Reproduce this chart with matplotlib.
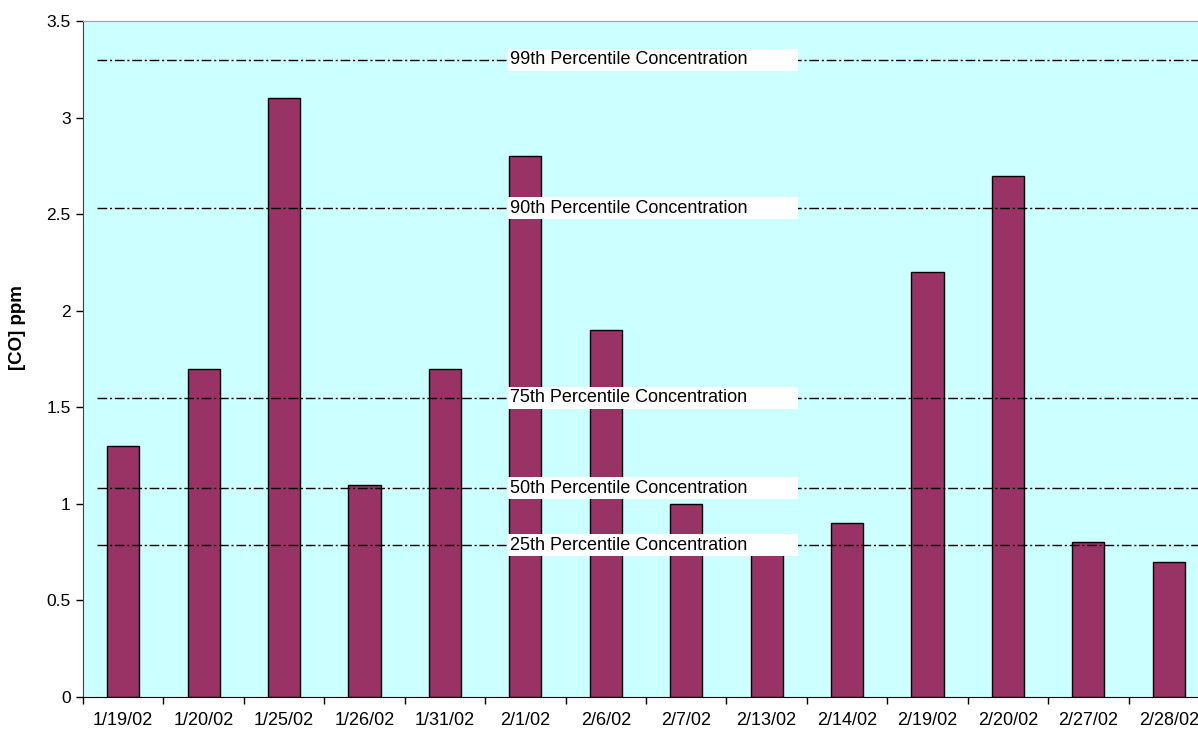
import matplotlib.pyplot as plt
import matplotlib.transforms as mtransforms
from matplotlib.patches import Rectangle
import numpy as np

plt.rcParams['font.family'] = ['Liberation Sans', 'DejaVu Sans']

# Sample dates and measured CO
dates = ["1/19/02", "1/20/02", "1/25/02", "1/26/02", "1/31/02", "2/1/02", "2/6/02",
         "2/7/02", "2/13/02", "2/14/02", "2/19/02", "2/20/02", "2/27/02", "2/28/02"]
co_ppm = [1.3, 1.7, 3.1, 1.1, 1.7, 2.8, 1.9, 1.0, 0.8, 0.9, 2.2, 2.7, 0.8, 0.7]

# Percentile reference levels
pct_names = ["99th", "90th", "75th", "50th", "25th"]
pct_values = [3.30, 2.53, 1.55, 1.08, 0.785]

BAR_COLOR = "#993366"
BG_COLOR = "#ccffff"

fig = plt.figure(figsize=(11.98, 7.35), dpi=100)
ax = fig.add_axes([83 / 1198, 1 - 697 / 735, 1126 / 1198, 676 / 735])
ax.set_facecolor(BG_COLOR)

x = np.arange(len(dates))
ax.bar(x, co_ppm, width=0.4, color=BAR_COLOR, edgecolor="black", linewidth=1.0, zorder=2)

# percentile lines with white label boxes
trans = mtransforms.blended_transform_factory(ax.transAxes, ax.transData)
box_h = 22 / 193.1
for name, val in zip(pct_names, pct_values):
    ax.axhline(val, xmin=0.012, color="black", lw=1.0,
               linestyle=(0, (7, 2, 1.5, 2)), zorder=3)
    ax.add_patch(Rectangle((0.3774, val - box_h / 2), 0.2576, box_h,
                           transform=trans, facecolor="white", edgecolor="none", zorder=4))
    ax.text(0.3790, val, f"{name} Percentile Concentration", transform=trans,
            ha="left", va="center", fontsize=13, color="black", zorder=5)

ax.set_xlim(-0.5, len(dates) - 0.5)
ax.set_ylim(0, 3.5)
ax.set_yticks(np.arange(0, 3.51, 0.5))
ax.set_yticklabels(["0", "0.5", "1", "1.5", "2", "2.5", "3", "3.5"])

# category boundaries get the tick marks, labels sit under each bar
ax.set_xticks(np.arange(-0.5, len(dates), 1.0))
ax.set_xticklabels([])
ax.set_xticks(x, minor=True)
ax.set_xticklabels(dates, minor=True)
ax.tick_params(axis="x", which="major", direction="out", length=5, width=1, color="black")
ax.tick_params(axis="x", which="minor", length=0, pad=11, labelsize=13)
ax.tick_params(axis="y", direction="out", length=5, width=1, labelsize=12.5, pad=4)

ax.spines["top"].set_color("#a0a0a0")
ax.spines["right"].set_visible(False)
ax.spines["left"].set_color("#404040")
ax.spines["bottom"].set_color("black")

ax.set_ylabel("[CO] ppm", fontsize=13.5, fontweight="bold")
ax.yaxis.set_label_coords(-0.0506, 0.546)

fig.savefig("out.png", dpi=100)
